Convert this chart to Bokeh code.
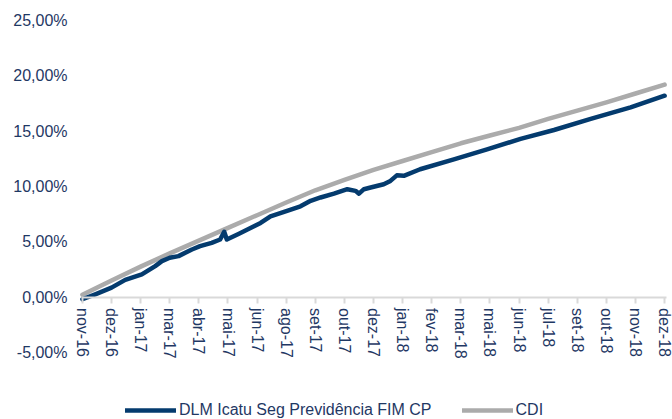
from bokeh.plotting import figure
from bokeh.models import LinearAxis, FixedTicker, Legend, LegendItem, Range1d, ColumnDataSource
from bokeh.embed import file_html
from bokeh.resources import INLINE

# ---- data ----
month_labels = ["nov-16", "dez-16", "jan-17", "mar-17", "abr-17", "mai-17", "jun-17",
                "ago-17", "set-17", "out-17", "dez-17", "jan-18", "fev-18", "mar-18",
                "mai-18", "jun-18", "jul-18", "set-18", "out-18", "nov-18", "dez-18"]
x_ticks = list(range(len(month_labels)))

y_ticks = [-5, 0, 5, 10, 15, 20, 25]
y_labels = ["-5,00%", "0,00%", "5,00%", "10,00%", "15,00%", "20,00%", "25,00%"]

# CDI accumulated return (%), sampled at each axis period index
cdi_t = [0, 1, 2, 3, 4, 5, 6, 7, 8, 9, 10, 11, 12, 13, 14, 15, 16, 17, 18, 19, 20]
cdi_v = [0.2, 1.5, 2.75, 3.95, 5.1, 6.25, 7.4, 8.55, 9.65, 10.6, 11.5, 12.3, 13.1,
         13.9, 14.6, 15.3, 16.1, 16.85, 17.6, 18.4, 19.2]

# DLM Icatu Seg Previdência FIM CP accumulated return (%)
dlm_t = [0.0, 0.44, 1.0, 1.47, 2.04, 2.5, 2.73, 3.0, 3.3, 3.76, 4.04, 4.44, 4.73, 4.87,
         4.96, 5.36, 6.12, 6.46, 7.03, 7.49, 7.84, 8.18, 8.64, 9.1, 9.38, 9.5, 9.67,
         9.9, 10.35, 10.58, 10.8, 11.04, 11.6, 12.76, 13.9, 15.05, 16.2, 17.46, 18.83, 20.0]
dlm_v = [-0.2, 0.25, 0.85, 1.55, 2.05, 2.8, 3.25, 3.55, 3.7, 4.3, 4.6, 4.9, 5.2, 5.9,
         5.2, 5.7, 6.7, 7.3, 7.8, 8.2, 8.7, 9.0, 9.35, 9.75, 9.6, 9.35, 9.75,
         9.9, 10.2, 10.5, 11.0, 10.96, 11.55, 12.45, 13.35, 14.3, 15.1, 16.1, 17.15, 18.2]

series_names = ["DLM Icatu Seg Previdência FIM CP", "CDI"]

NAVY_TXT = "#1F3864"
DLM_COLOR = "#043B6E"
CDI_COLOR = "#ABABAB"
FONT = "Liberation Sans"

p = figure(output_backend="svg", toolbar_location=None,
           frame_width=602, frame_height=399,
           x_range=Range1d(-0.41, 20.27), y_range=Range1d(-11.07, 25),
           x_axis_location=None, min_border_left=70, min_border_right=0,
           min_border_top=20, min_border_bottom=0)
p.outline_line_color = None
p.background_fill_color = "white"
p.xgrid.visible = False
p.ygrid.visible = False

# y axis
ya = p.yaxis[0]
ya.ticker = FixedTicker(ticks=y_ticks)
ya.major_label_overrides = {t: l for t, l in zip(y_ticks, y_labels)}
ya.axis_line_color = None
ya.major_tick_line_color = None
ya.minor_tick_line_color = None
ya.major_tick_out = 0
ya.major_tick_in = 0
ya.major_label_standoff = 3
ya.major_label_text_font = FONT
ya.major_label_text_font_size = "16px"
ya.major_label_text_color = NAVY_TXT

# x axis drawn at y = 0
xa = LinearAxis(fixed_location=0, bounds=(-0.02, 20.08))
xa.ticker = FixedTicker(ticks=x_ticks)
xa.major_label_overrides = {t: l for t, l in zip(x_ticks, month_labels)}
xa.major_label_orientation = "vertical"
xa.axis_line_color = "#D9D9D9"
xa.axis_line_width = 2
xa.major_tick_line_color = "#D9D9D9"
xa.major_tick_line_width = 2
xa.major_tick_in = 0
xa.major_tick_out = 6
xa.minor_tick_line_color = None
xa.major_label_standoff = 5
xa.major_label_text_font = FONT
xa.major_label_text_font_size = "16px"
xa.major_label_text_color = NAVY_TXT
p.add_layout(xa, "below")

src_cdi = ColumnDataSource(dict(x=cdi_t, y=cdi_v))
src_dlm = ColumnDataSource(dict(x=dlm_t, y=dlm_v))

r_cdi = p.line("x", "y", source=src_cdi, line_color=CDI_COLOR, line_width=4.5,
               line_join="round", line_cap="round")
r_dlm = p.line("x", "y", source=src_dlm, line_color=DLM_COLOR, line_width=4.5,
               line_join="round", line_cap="round")

legend = Legend(items=[LegendItem(label=series_names[0], renderers=[r_dlm]),
                       LegendItem(label=series_names[1], renderers=[r_cdi])],
                orientation="horizontal", location=(55, 0))
legend.border_line_color = None
legend.background_fill_alpha = 0
legend.padding = 0
legend.margin = 0
legend.spacing = 30
legend.glyph_width = 51
legend.glyph_height = 16
legend.label_height = 16
legend.label_standoff = 3
legend.label_text_font = FONT
legend.label_text_font_size = "16px"
legend.label_text_color = NAVY_TXT
p.add_layout(legend, "center")

open("out.html", "w").write(file_html(p, INLINE))
